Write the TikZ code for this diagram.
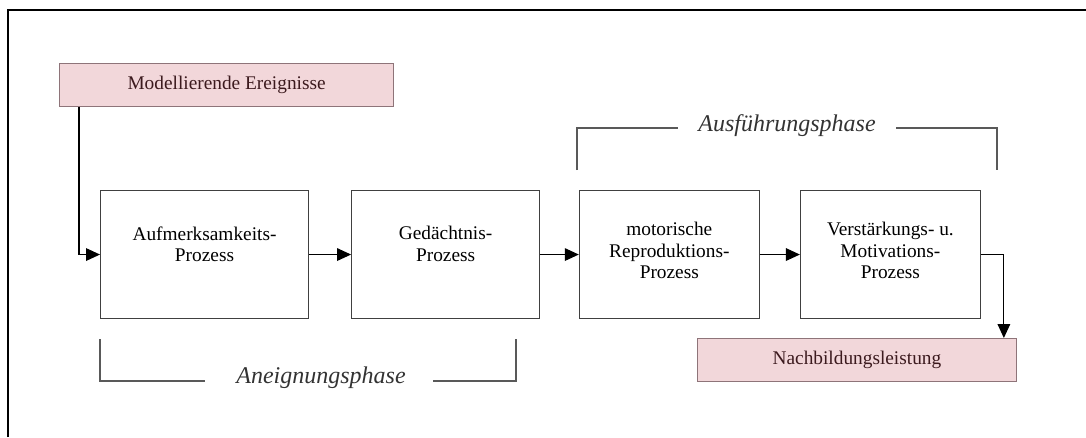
\documentclass[tikz,border=0pt]{standalone}
\usepackage{fontspec}
\setmainfont{Liberation Serif}
\usetikzlibrary{positioning, arrows.meta}

\definecolor{eventpink}{RGB}{242,215,218}
\definecolor{eventframe}{RGB}{142,116,121}
\definecolor{eventtext}{RGB}{60,26,30}

\begin{document}
\begin{tikzpicture}[
    x=0.75pt, y=-0.75pt,
    node distance=30pt,
    >={Triangle[length=10.5pt,width=9.5pt]},
    every node/.style={font=\fontsize{14.5}{16}\selectfont},
    process/.style={rectangle, draw=black!75, line width=0.8pt, align=center, minimum height=96pt, inner sep=0pt},
    event/.style={rectangle, draw=eventframe, line width=0.9pt, fill=eventpink, text=eventtext, minimum height=32pt, inner sep=0pt},
    phase/.style={font=\fontsize{18}{20}\selectfont\itshape, text=black!80},
    bracket/.style={draw=black!65, line width=0.8pt},
    arrow/.style={->, line width=0.8pt}
  ]
  \useasboundingbox (0,0) rectangle (1086,437);
  % frame, cut off at the right and bottom
  \draw[line width=1.6pt] (8,437) -- (8,10) -- (1086,10);

  % Nodes (a last empty line lifts the text into the upper half)
  \node[event, minimum width=250.5pt, anchor=north west] (events) at (59,63) {Modellierende Ereignisse};
  \node[process, minimum width=156pt, anchor=north west] (attention) at (100,190) {Aufmerksamkeits-\\Prozess\\~};
  \node[process, minimum width=141pt, right=31.5pt of attention] (memory) {Gedächtnis-\\Prozess\\~};
  \node[process, minimum width=135pt, right=29pt of memory] (motor) {motorische\\Reproduktions-\\Prozess\\[-10pt]~};
  \node[process, minimum width=135pt, right=of motor] (motivation) {Verstärkungs- u.\\Motivations-\\Prozess\\[-10pt]~};
  \node[event, minimum width=239pt, anchor=north west] (performance) at (697,338) {Nachbildungsleistung};

  % Phases
  \node[phase] (acquisition) at (321,378) {Aneignungsphase};
  \node[phase] (execution) at (787,126) {Ausführungsphase};
  \draw[bracket] (100,339) |- (205,381);
  \draw[bracket] (433,381) -| (516,339);
  \draw[bracket] (577,170) |- (678,128);
  \draw[bracket] (896,128) -| (997,170);

  % Arrows
  \draw[arrow] ([xshift=15pt]events.south west) |- (attention.west);
  \draw[arrow] (attention) -- (memory);
  \draw[arrow] (memory) -- (motor);
  \draw[arrow] (motor) -- (motivation);
  \draw[arrow] (motivation.east) -| ([xshift=-9.75pt]performance.north east);
\end{tikzpicture}
\end{document}
